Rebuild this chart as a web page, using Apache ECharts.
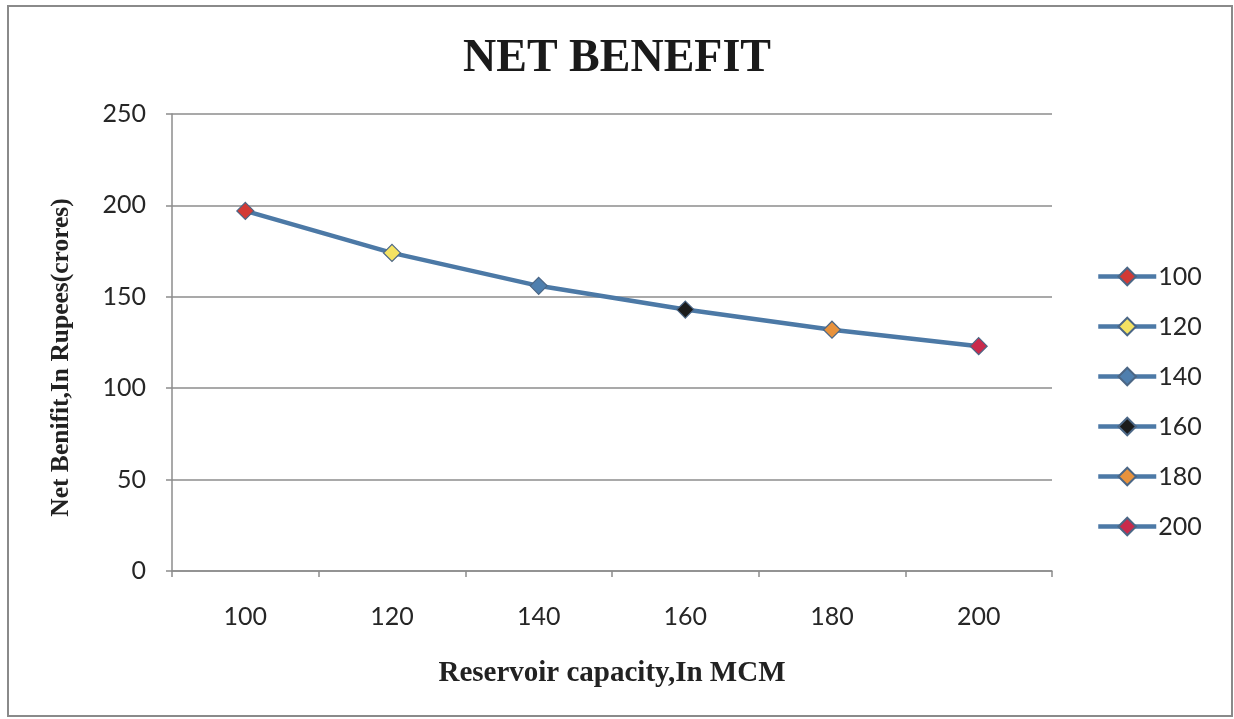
<!DOCTYPE html>
<html>
<head>
<meta charset="utf-8">
<script src="https://cdn.jsdelivr.net/npm/echarts@6/dist/echarts.min.js"></script>
<style>
  html, body { margin: 0; padding: 0; background: #fff; }
  #chart { width: 1234px; height: 719px; }
</style>
</head>
<body>
<div id="chart"></div>
<script>
// Reservoir capacity (MCM) and the resulting net benefit (crores of rupees)
const capacities = ['100', '120', '140', '160', '180', '200'];
const netBenefit = [197, 174, 156, 143, 132, 123];
const pointColors = ['#d23a35', '#f4e262', '#4f7fae', '#1b1b1b', '#e8923c', '#c92a4b'];
const yTicks = { min: 0, max: 250, step: 50 };

const lineColor = '#4c79a6';
const labelFont = 'Lato, "Open Sans", sans-serif';
const serifFont = '"Liberation Serif", "DejaVu Serif", serif';

// One connecting line, plus one marker series per capacity so each appears in the legend
const series = [{
  name: 'Net benefit',
  type: 'line',
  data: netBenefit,
  symbol: 'none',
  lineStyle: { color: lineColor, width: 4.5 },
  z: 2,
  silent: true
}];
capacities.forEach((c, i) => {
  series.push({
    name: c,
    type: 'line',
    data: netBenefit.map((v, j) => (j === i ? v : '-')),
    symbol: 'diamond',
    symbolSize: 17,
    showSymbol: true,
    lineStyle: { color: lineColor, width: 4.5 },
    itemStyle: { color: pointColors[i], borderColor: '#4b6685', borderWidth: 1.2 },
    z: 3
  });
});

const chart = echarts.init(document.getElementById('chart'));
chart.setOption({
  animation: false,
  backgroundColor: '#fff',
  title: {
    text: 'NET BENEFIT',
    left: 'center',
    top: 31,
    textStyle: { fontFamily: serifFont, fontWeight: 'bold', fontSize: 46, color: '#1a1a1a' }
  },
  legend: {
    data: capacities,
    orient: 'vertical',
    left: 1091,
    top: 259,
    itemWidth: 58,
    itemHeight: 22,
    itemGap: 25,
    lineStyle: { width: 4.5, color: lineColor },
    textStyle: { fontFamily: labelFont, fontSize: 25, color: '#262626', padding: [0, 0, 0, -3] }
  },
  grid: { left: 172, right: 182, top: 114, bottom: 148 },
  xAxis: {
    type: 'category',
    data: capacities,
    boundaryGap: true,
    name: 'Reservoir capacity,In MCM',
    nameLocation: 'middle',
    nameGap: 88,
    nameTextStyle: { fontFamily: serifFont, fontWeight: 'bold', fontSize: 29, color: '#222' },
    axisLine: { lineStyle: { color: '#8c8c8c', width: 1.5 } },
    axisTick: { show: true, length: 6, lineStyle: { color: '#8c8c8c', width: 1.5 } },
    axisLabel: { fontFamily: labelFont, fontSize: 25, color: '#262626', margin: 33 }
  },
  yAxis: {
    type: 'value',
    min: yTicks.min,
    max: yTicks.max,
    interval: yTicks.step,
    name: 'Net Benifit,In Rupees(crores)',
    nameLocation: 'middle',
    nameGap: 98,
    nameTextStyle: { fontFamily: serifFont, fontWeight: 'bold', fontSize: 25.5, color: '#222', padding: [0, 30, 0, 0] },
    axisLine: { show: true, lineStyle: { color: '#8c8c8c', width: 1.5 } },
    axisTick: { show: true, length: 6, lineStyle: { color: '#8c8c8c', width: 1.5 } },
    axisLabel: { fontFamily: labelFont, fontSize: 25, color: '#262626', margin: 26 },
    splitLine: { lineStyle: { color: '#8c8c8c', width: 1.5 } }
  },
  graphic: [{
    type: 'rect',
    shape: { x: 8, y: 6, width: 1224, height: 710 },
    style: { fill: 'none', stroke: '#8a8a8a', lineWidth: 2 },
    silent: true
  }],
  series: series
});
</script>
</body>
</html>
